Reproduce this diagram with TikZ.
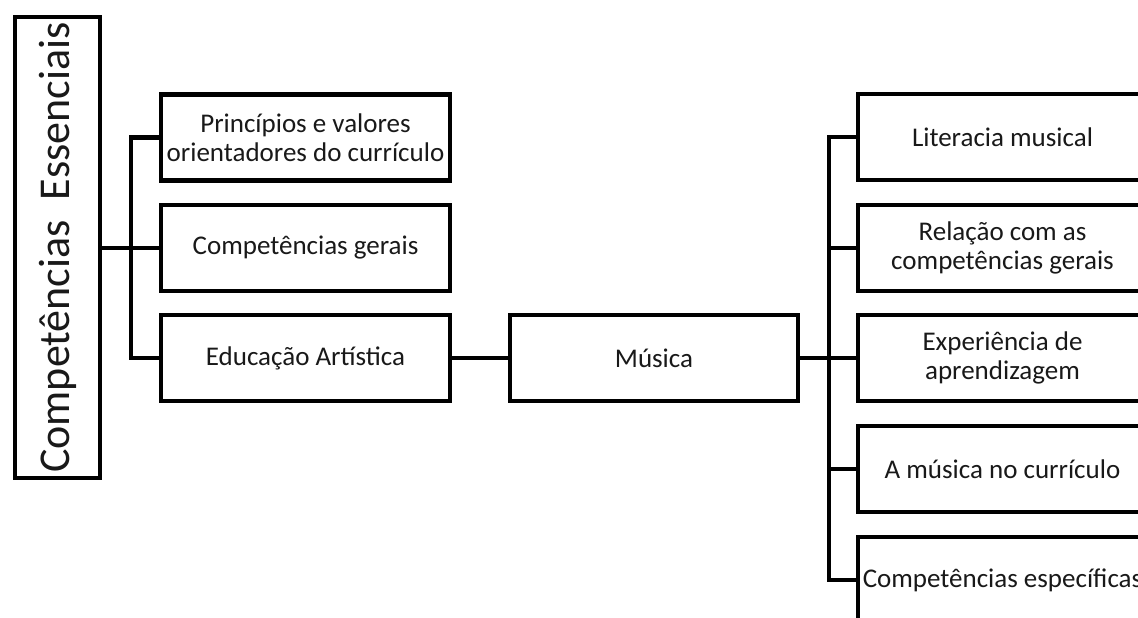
\documentclass[tikz,border=0pt]{standalone}
\usepackage{fontspec}
\setmainfont{Carlito}
\begin{document}
\begin{tikzpicture}[x=1pt,y=-1pt,
  box/.style={draw=black, line width=4.2pt, minimum width=289pt, minimum height=86pt,
    inner sep=0pt, align=center, font=\fontsize{27}{29.5}\selectfont, text=black!90},
  conn/.style={line width=4.2pt, line join=miter}]
\useasboundingbox (0,0) rectangle (1138,618);
\clip (0,0) rectangle (1138,618);
\fill[white] (0,0) rectangle (1138,618);
% root
\node[draw=black, line width=4.2pt, minimum width=85pt, minimum height=461pt, inner sep=0pt]
  (root) at (57.5,247.5) {};
\node[rotate=90, font=\fontsize{44}{50}\selectfont, text=black!90, inner sep=0pt]
  (rootlabel) at (root.center) {Competências\ \ Essenciais};
% left column
\node[box] (b1) at (305.5,137.5) {Princípios e valores\\orientadores do currículo};
\node[box] (b2) at (305.5,248) {Competências gerais};
\node[box] (b3) at (305.5,358) {Educação Artística};
% middle
\node[box, minimum width=288pt] (mus) at (654,358) {Música};
% right column
\node[box] (r1) at (1002.5,137) {Literacia musical};
\node[box] (r2) at (1002.5,248) {Relação com as\\competências gerais};
\node[box] (r3) at (1002.5,358) {Experiência de\\aprendizagem};
\node[box] (r4) at (1002.5,469) {A música no currículo};
\node[box] (r5) at (1002.5,580) {Competências específicas};
% junctions
\coordinate (jl) at (131,248);
\coordinate (jr) at (829,358);
% connectors left
\draw[conn] (b2.west -| root.east) -- (b2.west);
\draw[conn] (b1.west) -| (jl) |- (b3.west);
% educacao to musica
\draw[conn] (b3.east) -- (mus.west);
% musica to right
\draw[conn] (mus.east) -- (r3.west);
\draw[conn] (r1.west) -| (jr) |- (r5.west);
\draw[conn] (jr) |- (r2.west);
\draw[conn] (jr) |- (r4.west);
\end{tikzpicture}
\end{document}
